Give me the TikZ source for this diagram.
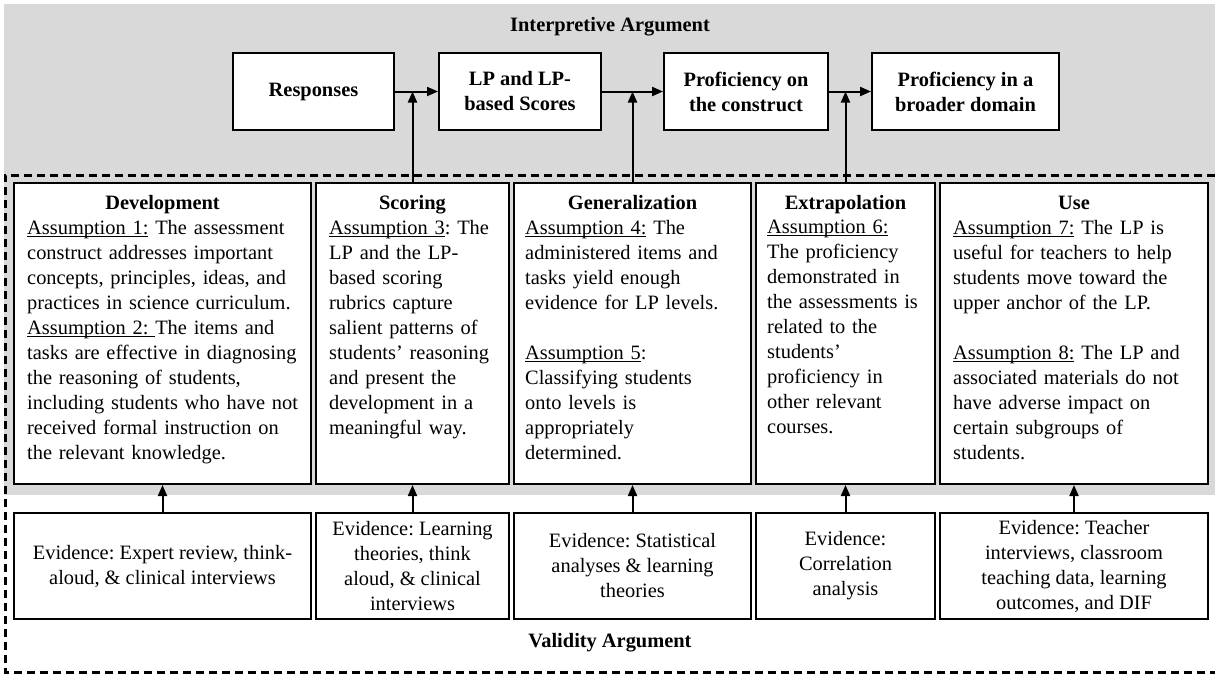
\documentclass[tikz,border=0pt]{standalone}
\usepackage{fontspec}
\setmainfont{Liberation Serif}
\usetikzlibrary{arrows.meta}
\definecolor{bggray}{HTML}{D9D9D9}
\newsavebox\ulbox
\newcommand\ulin[1]{\leavevmode\sbox\ulbox{#1}\rlap{\rule[-2.4pt]{\wd\ulbox}{1.1pt}}\usebox\ulbox}
\frenchspacing
\begin{document}
\begin{tikzpicture}[x=1pt,y=-1pt,
  topbox/.style={draw, line width=2pt, fill=white, minimum height=77pt, inner sep=0pt, align=center,
    font=\fontsize{20.4}{25}\selectfont\bfseries, anchor=north west},
  abox/.style={draw, line width=2pt, fill=white, minimum height=301pt, inner sep=0pt, anchor=north west},
  ebox/.style={draw, line width=2pt, fill=white, minimum height=106pt, inner sep=0pt, anchor=north west,
    align=center, font=\fontsize{20.4}{25}\selectfont},
  ttl/.style={anchor=base, inner sep=0pt, font=\fontsize{20.4}{25}\selectfont\bfseries},
  body/.style={anchor=north west, inner sep=0pt, align=left, font=\fontsize{20.4}{25}\selectfont},
  arr/.style={line width=2pt, -{Triangle[length=11pt,width=9pt]}},
  outer/.style={line width=3pt, dash pattern=on 8pt off 5pt},
]
\useasboundingbox (0,0) rectangle (1215,677);
\fill[bggray] (4,4) rectangle (1215,495);
\draw[outer] (1215,175) -- (5,175) -- (5,672) -- (1215,672);

\node[ttl] (ia) at (610,32) {Interpretive Argument};
\node[ttl] (va) at (610,647) {Validity Argument};

% top row
\node[topbox, minimum width=161pt] (resp) at (232,52) {Responses};
\node[topbox, minimum width=162pt] (lp) at (438,52) {LP and LP-\\based Scores};
\node[topbox, minimum width=164pt] (pon) at (663,52) {Proficiency on\\the construct};
\node[topbox, minimum width=187pt] (pbd) at (871,52) {Proficiency in a\\broader domain};

% assumption boxes
\node[abox, minimum width=297pt] (dev) at (13,182) {};
\node[abox, minimum width=193pt] (sco) at (315,182) {};
\node[abox, minimum width=237pt] (gen) at (513,182) {};
\node[abox, minimum width=179pt] (ext) at (755,182) {};
\node[abox, minimum width=268pt] (use) at (939,182) {};

% evidence boxes
\node[ebox, minimum width=297pt] (edev) at (13,512) {Evidence: Expert review, think-\\aloud, \& clinical interviews};
\node[ebox, minimum width=193pt] (esco) at (315,512) {Evidence: Learning\\theories, think\\aloud, \& clinical\\interviews};
\node[ebox, minimum width=237pt] (egen) at (513,512) {Evidence: Statistical\\analyses \& learning\\theories};
\node[ebox, minimum width=179pt] (eext) at (755,512) {Evidence:\\Correlation\\analysis};
\node[ebox, minimum width=268pt] (euse) at (939,512) {Evidence: Teacher\\interviews, classroom\\teaching data, learning\\outcomes, and DIF};

% titles
\node[ttl] (tdev) at (dev.north |- 0,209) {Development};
\node[ttl] (tsco) at (sco.north |- 0,209) {Scoring};
\node[ttl] (tgen) at (gen.north |- 0,209) {Generalization};
\node[ttl] (text) at (ext.north |- 0,209) {Extrapolation};
\node[ttl] (tuse) at (use.north |- 0,209) {Use};

% bodies
\node[body, text width=290pt] (bdev) at (27,220) {\ulin{Assumption 1:} The assessment\\
construct addresses important\\
concepts, principles, ideas, and\\
practices in science curriculum.\\
\ulin{Assumption 2:\ }The items and\\
tasks are effective in diagnosing\\
the reasoning of students,\\
including students who have not\\
received formal instruction on\\
the relevant knowledge.};
\node[body, text width=185pt] (bsco) at (329,220) {\ulin{Assumption 3}: The\\
LP and the LP-\\
based scoring\\
rubrics capture\\
salient patterns of\\
students’ reasoning\\
and present the\\
development in a\\
meaningful way.};
\node[body, text width=230pt] (bgen) at (525,220) {\ulin{Assumption 4:} The\\
administered items and\\
tasks yield enough\\
evidence for LP levels.\\[25pt]
\ulin{Assumption 5}:\\
Classifying students\\
onto levels is\\
appropriately\\
determined.};
\node[body, text width=175pt] (bext) at (767,220) {\ulin{Assumption 6:}\\
The proficiency\\
demonstrated in\\
the assessments is\\
related to the\\
students’\\
proficiency in\\
other relevant\\
courses.};
\node[body, text width=260pt] (buse) at (953,220) {\ulin{Assumption 7:} The LP is\\
useful for teachers to help\\
students move toward the\\
upper anchor of the LP.\\[25pt]
\ulin{Assumption 8:} The LP and\\
associated materials do not\\
have adverse impact on\\
certain subgroups of\\
students.};

% arrows along the interpretive chain
\draw[arr] (resp.east) -- (lp.west);
\draw[arr] (lp.east |- resp.east) -- (pon.west |- resp.east);
\draw[arr] (pon.east |- resp.east) -- (pbd.west |- resp.east);
\draw[arr] (sco.north) -- (sco.north |- resp.east);
\draw[arr] (gen.north) -- (gen.north |- resp.east);
\draw[arr] (ext.north) -- (ext.north |- resp.east);

% evidence arrows
\draw[arr] (edev.north) -- (dev.south);
\draw[arr] (esco.north) -- (sco.south);
\draw[arr] (egen.north) -- (gen.south);
\draw[arr] (eext.north) -- (ext.south);
\draw[arr] (euse.north) -- (use.south);
\end{tikzpicture}
\end{document}
